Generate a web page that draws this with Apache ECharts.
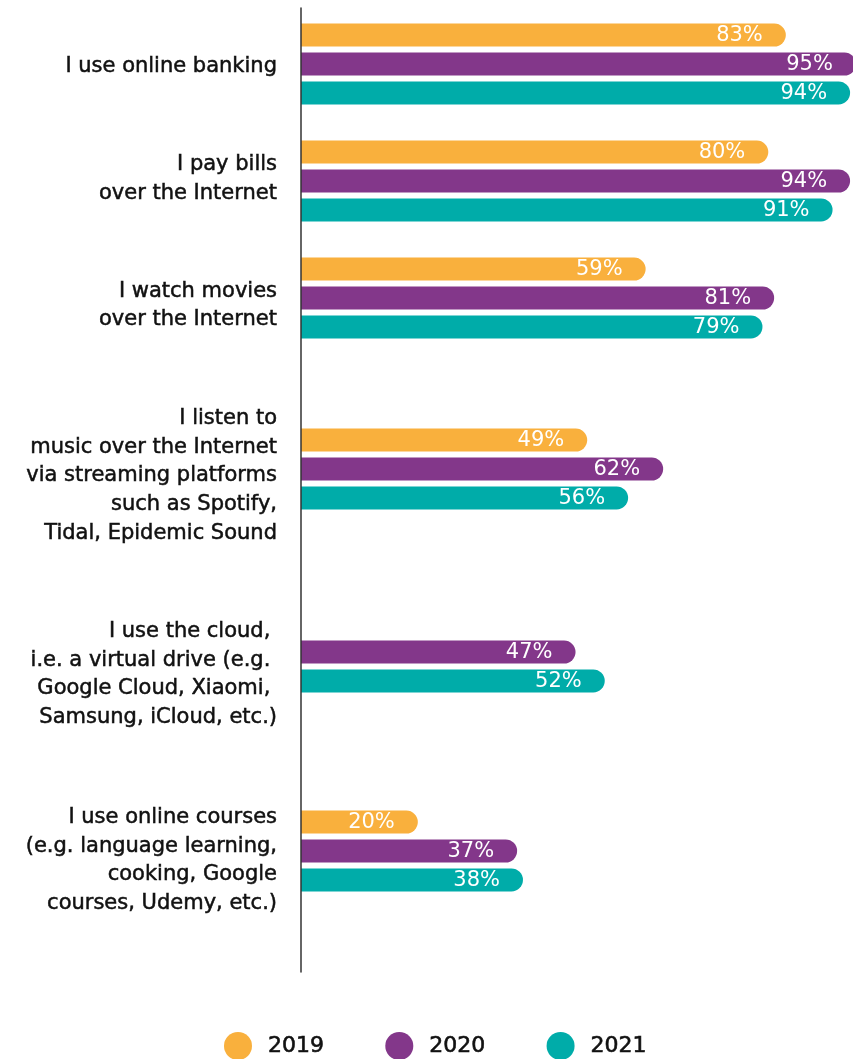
<!DOCTYPE html>
<html>
<head>
<meta charset="utf-8">
<script src="https://cdn.jsdelivr.net/npm/echarts@6/dist/echarts.min.js"></script>
<style>
  html, body { margin: 0; padding: 0; background: #fff; }
  #chart { width: 853px; height: 1059px; }
</style>
</head>
<body>
<div id="chart"></div>
<script>
// Survey answers: share of respondents (%) per activity and year
const categories = [
  'I use online banking',
  'I pay bills\nover the Internet',
  'I watch movies\nover the Internet',
  'I listen to\nmusic over the Internet\nvia streaming platforms\nsuch as Spotify,\nTidal, Epidemic Sound',
  'I use the cloud, \ni.e. a virtual drive (e.g. \nGoogle Cloud, Xiaomi, \nSamsung, iCloud, etc.)',
  'I use online courses\n(e.g. language learning,\ncooking, Google\ncourses, Udemy, etc.)'
];
const years = ['2019', '2020', '2021'];
const values2019 = [83, 80, 59, 49, null, 20];
const values2020 = [95, 94, 81, 62, 47, 37];
const values2021 = [94, 91, 79, 56, 52, 38];

// Layout: vertical centre of each bar group and of its text block
const groupCenters = [64, 181, 298, 469, 666.5, 851];
const labelCenters = [67, 179, 305.5, 476, 674.5, 860.5];
const colors = { '2019': '#F9B03D', '2020': '#83378A', '2021': '#00ACA9' };
const FONT = 'DejaVu Sans';
// the value axis runs past the right edge of the page; the visible part ends here
const AXIS_MAX = 94.5;

const seriesValues = { '2019': values2019, '2020': values2020, '2021': values2021 };

const grids = [], xAxes = [], yAxes = [], series = [];
const GRID_H = 90;

function addGrid(top, yAxis) {
  const idx = grids.length;
  grids.push({ left: 301, right: 0, top: top, height: GRID_H, containLabel: false });
  xAxes.push({ gridIndex: idx, type: 'value', min: 0, max: AXIS_MAX, show: false });
  yAxes.push(Object.assign({ gridIndex: idx }, yAxis));
  return idx;
}

categories.forEach((cat, i) => {
  // bars of one activity
  const barIdx = addGrid(groupCenters[i] - GRID_H / 2, {
    type: 'category', data: [cat], show: false
  });
  years.forEach(y => {
    const v = seriesValues[y][i];
    if (v === null) return;
    series.push({
      type: 'bar', name: y, xAxisIndex: barIdx, yAxisIndex: barIdx,
      data: [v], barWidth: 23, barGap: '26%', clip: false,
      itemStyle: { color: colors[y], borderRadius: [0, 12, 12, 0] },
      label: {
        show: true, position: 'insideRight', distance: 23, offset: [0, 1],
        formatter: '{c}%', color: '#fff', fontFamily: FONT, fontSize: 21
      },
      emphasis: { disabled: true }
    });
  });
  // the activity's caption, left of the baseline
  addGrid(labelCenters[i] - GRID_H / 2, {
    type: 'category', data: [cat],
    axisLine: { show: false }, axisTick: { show: false }, splitLine: { show: false },
    axisLabel: {
      margin: 24, color: '#111', fontFamily: FONT, fontSize: 21,
      lineHeight: 28.8, align: 'right',
      textBorderColor: '#111', textBorderWidth: 0.5
    }
  });
});

// Shared baseline running down the whole chart
const axisIdx = grids.length;
grids.push({ left: 301, right: 0, top: 8, height: 964 });
xAxes.push({ gridIndex: axisIdx, type: 'value', min: 0, max: AXIS_MAX, show: false });
yAxes.push({
  gridIndex: axisIdx, type: 'value', min: 0, max: 1, z: 10,
  axisLine: { show: true, lineStyle: { color: '#333', width: 1.5 } },
  axisTick: { show: false }, axisLabel: { show: false }, splitLine: { show: false }
});

const chart = echarts.init(document.getElementById('chart'), null, { renderer: 'canvas' });
chart.setOption({
  animation: false,
  grid: grids,
  xAxis: xAxes,
  yAxis: yAxes,
  legend: {
    data: years.map(y => ({ name: y, itemStyle: { color: colors[y] } })),
    left: 224, top: 1032, padding: 0,
    icon: 'circle', itemWidth: 28, itemHeight: 28, itemGap: 61,
    textStyle: {
      fontFamily: FONT, fontSize: 22, color: '#111', padding: [0, 0, 0, 11],
      textBorderColor: '#111', textBorderWidth: 0.6
    },
    selectedMode: false
  },
  series: series
});
</script>
</body>
</html>
